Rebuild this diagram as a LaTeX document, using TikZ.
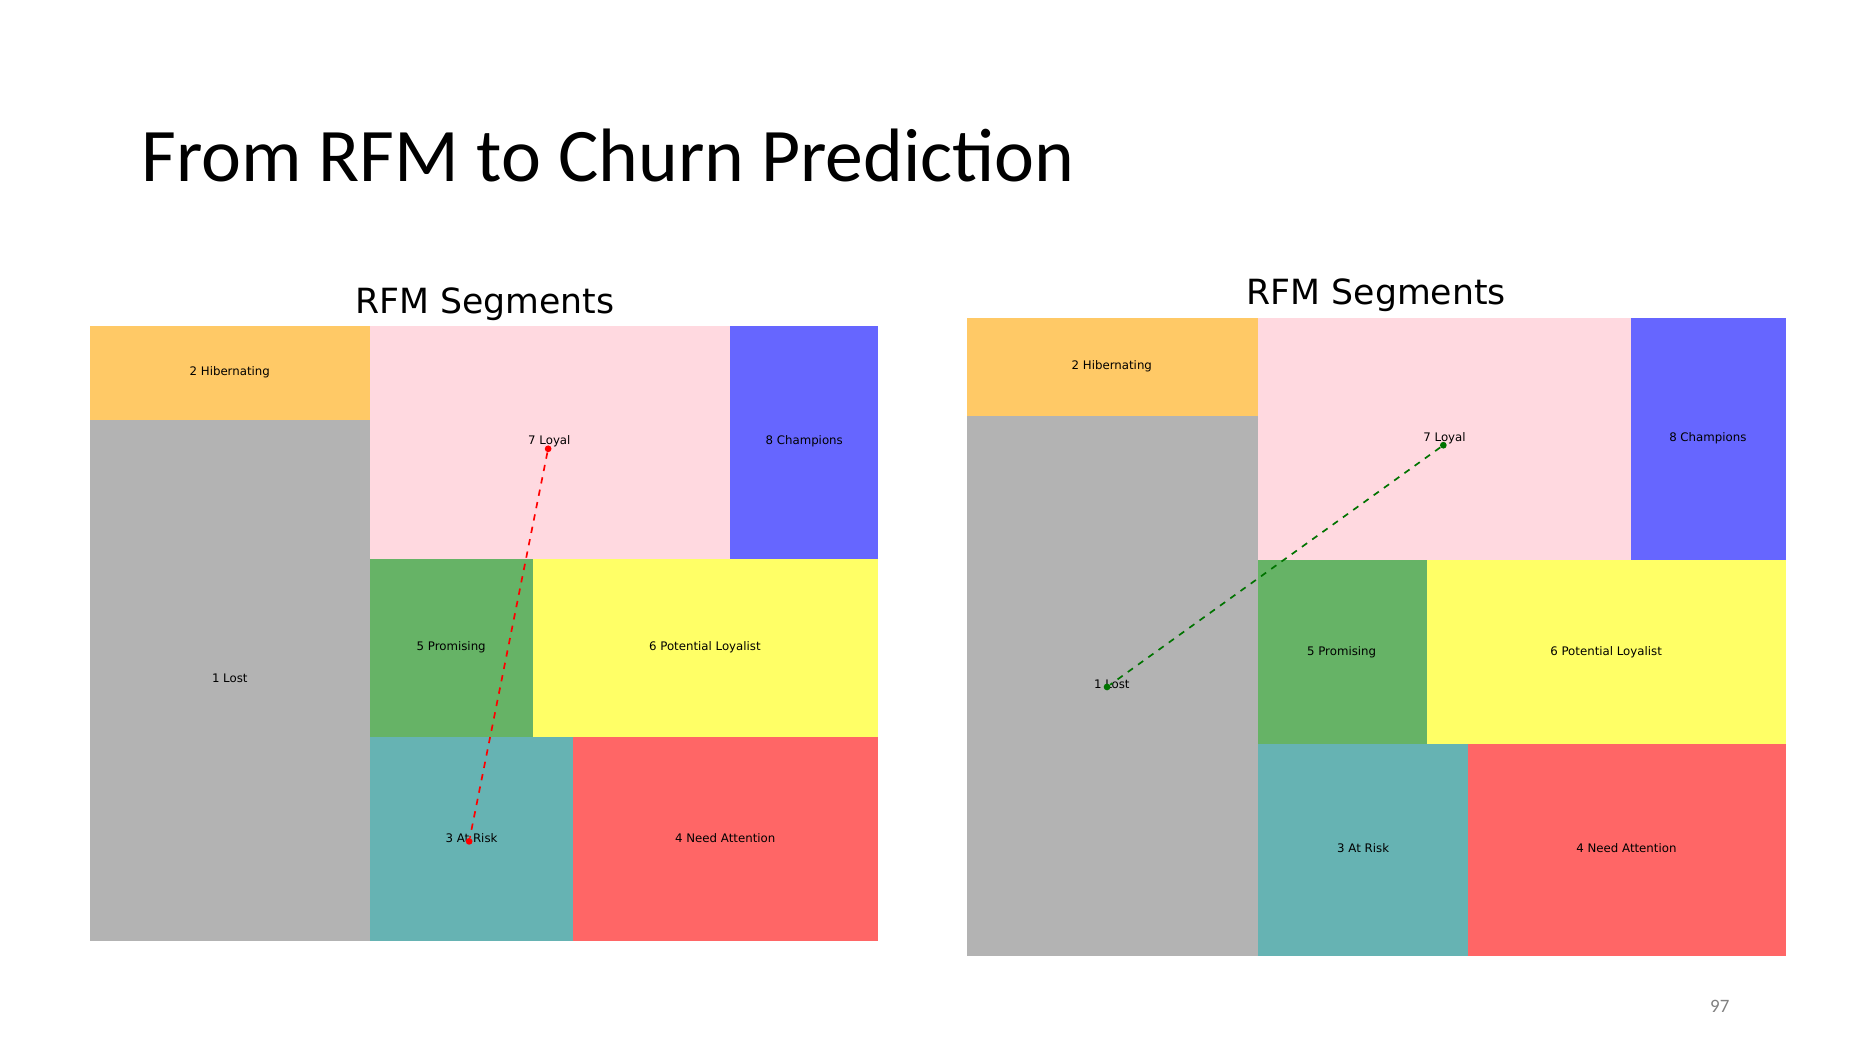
\documentclass[tikz,border=0pt]{standalone}
\usepackage{fontspec}
\setmainfont{DejaVu Sans}
\newfontfamily\titlefont{Carlito}
\usetikzlibrary{positioning}

\definecolor{hibcol}{HTML}{FFC966}
\definecolor{lostcol}{HTML}{B3B3B3}
\definecolor{loycol}{HTML}{FFD9E0}
\definecolor{chcol}{HTML}{6666FF}
\definecolor{procol}{HTML}{66B366}
\definecolor{potcol}{HTML}{FFFF66}
\definecolor{riskcol}{HTML}{66B3B3}
\definecolor{needcol}{HTML}{FF6666}

\begin{document}
\begin{tikzpicture}[x=0.02cm, y=-0.02cm,
    seg/.style={font=\fontsize{5.6}{6}\selectfont},
    charttitle/.style={font=\fontsize{16.5}{18}\selectfont},
    dot/.style={circle, inner sep=0pt, minimum size=3.2pt},
    path/.style={dashed, thick}
]
\useasboundingbox (0,0) rectangle (1560,877);

% Title
\node[font=\titlefont\fontsize{36}{40}\selectfont, anchor=west] (title) at (112,130) {From RFM to Churn Prediction};

% Left chart
\node[charttitle] (ltitle) at (405,254) {RFM Segments};
\fill[hibcol] (75,272) rectangle (309,351);
\fill[lostcol] (75,351) rectangle (309,786);
\fill[loycol] (309,272) rectangle (610,467);
\fill[chcol] (610,272) rectangle (734,467);
\fill[procol] (309,467) rectangle (445,616);
\fill[potcol] (445,467) rectangle (734,616);
\fill[riskcol] (309,616) rectangle (479,786);
\fill[needcol] (479,616) rectangle (734,786);
\node[seg] at (192,311) {2 Hibernating};
\node[seg] at (192,567) {1 Lost};
\node[seg] at (459,369) {7 Loyal};
\node[seg] at (672,369) {8 Champions};
\node[seg] at (377,541) {5 Promising};
\node[seg] at (589,541) {6 Potential Loyalist};
\node[seg] at (394,700) {3 At Risk};
\node[seg] at (606,700) {4 Need Attention};
\node[dot, fill=red] (lloyal) at (458,375) {};
\node[dot, fill=red] (lrisk) at (392,703) {};
\draw[path, red] (lloyal) -- (lrisk);

% Right chart
\node[charttitle] (rtitle) at (1150,247) {RFM Segments};
\fill[hibcol] (808,266) rectangle (1051,348);
\fill[lostcol] (808,348) rectangle (1051,799);
\fill[loycol] (1051,266) rectangle (1363,468);
\fill[chcol] (1363,266) rectangle (1492,468);
\fill[procol] (1051,468) rectangle (1192,622);
\fill[potcol] (1192,468) rectangle (1492,622);
\fill[riskcol] (1051,622) rectangle (1227,799);
\fill[needcol] (1227,622) rectangle (1492,799);
\node[seg] at (929,306) {2 Hibernating};
\node[seg] at (929,572) {1 Lost};
\node[seg] at (1207,366) {7 Loyal};
\node[seg] at (1427,366) {8 Champions};
\node[seg] at (1121,545) {5 Promising};
\node[seg] at (1342,545) {6 Potential Loyalist};
\node[seg] at (1139,709) {3 At Risk};
\node[seg] at (1359,709) {4 Need Attention};
\node[dot, fill=green!45!black] (rloyal) at (1206,372) {};
\node[dot, fill=green!45!black] (rlost) at (925,574) {};
\draw[path, green!45!black] (rloyal) -- (rlost);

% Page number
\node[font=\titlefont\fontsize{9}{10}\selectfont, text=gray] (page) at (1437,841) {97};
\end{tikzpicture}
\end{document}
